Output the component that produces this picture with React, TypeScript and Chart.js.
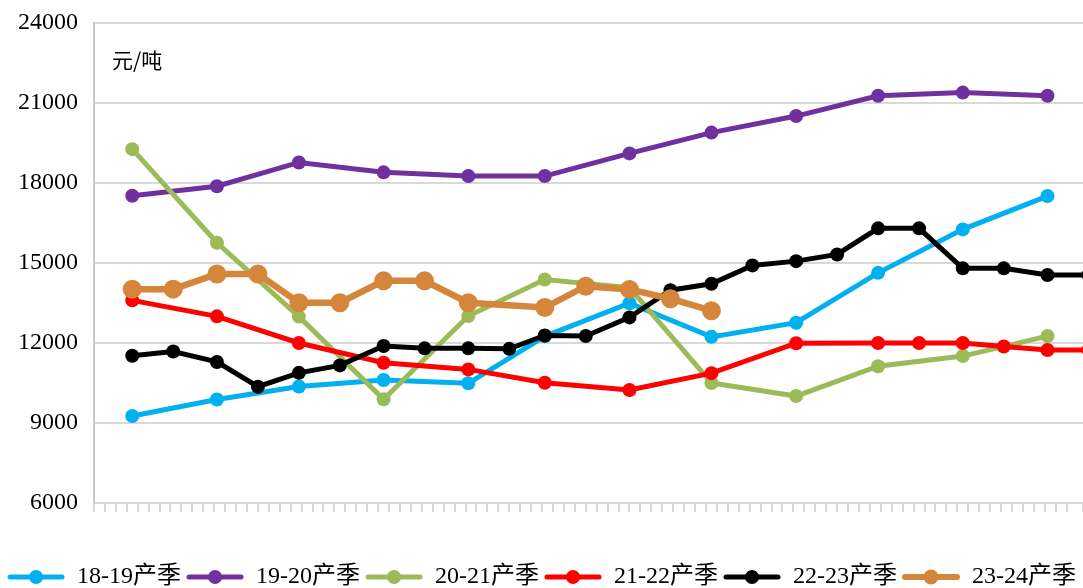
import { useEffect, useRef } from 'react';
import { Chart, registerables } from 'chart.js';

Chart.register(...registerables);

// ---------- data ----------
const unitText = '元/吨';
const seriesNames = ['18-19产季', '19-20产季', '20-21产季', '21-22产季', '22-23产季', '23-24产季'];
const seriesColors = ['#00B0F0', '#7030A0', '#9BBB59', '#FF0000', '#000000', '#D6863B'];

const monthlyDates = ['10-01', '11-01', '12-01', '01-01', '02-01', '03-01', '04-01', '05-01', '06-01', '07-01', '08-01', '09-01'];
const halfMonthDates = [
  '10-01', '10-16', '11-01', '11-16', '12-01', '12-16', '01-01', '01-16', '02-01', '02-16', '03-01', '03-16',
  '04-01', '04-16', '05-01', '05-16', '06-01', '06-16', '07-01', '07-16', '08-01', '08-16', '09-01', '09-16',
];
const dates2122 = ['10-01', '11-01', '12-01', '01-01', '02-01', '03-01', '04-01', '05-01', '06-01', '07-01', '07-16', '08-01', '08-16', '09-01', '09-16'];
const dates2324 = ['10-01', '10-16', '11-01', '11-16', '12-01', '12-16', '01-01', '01-16', '02-01', '03-01', '03-16', '04-01', '04-16', '05-01'];

const values1819 = [9260, 9880, 10370, 10610, 10490, 12250, 13490, 12230, 12760, 14630, 16260, 17510];
const values1920 = [17520, 17880, 18770, 18400, 18260, 18260, 19110, 19890, 20510, 21270, 21390, 21270];
const values2021 = [19270, 15760, 12990, 9890, 13010, 14380, 14080, 10500, 10010, 11130, 11510, 12260];
const values2122 = [13600, 13000, 12000, 11260, 11010, 10510, 10240, 10870, 11990, 12000, 12000, 12000, 11870, 11740, 11740];
const values2223 = [
  11520, 11680, 11290, 10360, 10880, 11160, 11890, 11800, 11800, 11780, 12280, 12260,
  12960, 13980, 14220, 14910, 15070, 15320, 16300, 16300, 14800, 14800, 14550, 14550,
];
const values2324 = [14020, 14020, 14590, 14590, 13510, 13510, 14330, 14330, 13510, 13330, 14130, 14010, 13660, 13210];

const yMin = 6000;
const yMax = 24000;
const yStep = 3000;
const xTickStepDays = 4;

// ---------- helpers ----------
const SEASON_START = Date.UTC(2022, 8, 17);
function toDay(md: string): number {
  const [m, d] = md.split('-').map(Number);
  const year = m >= 10 ? 2022 : 2023;
  return (Date.UTC(year, m - 1, d) - SEASON_START) / 86400000;
}
function toPoints(dates: string[], values: number[]) {
  return dates.map((d, i) => ({ x: toDay(d), y: values[i] }));
}

const seriesDates = [monthlyDates, monthlyDates, monthlyDates, dates2122, halfMonthDates, dates2324];
const seriesValues = [values1819, values1920, values2021, values2122, values2223, values2324];
const seriesLineWidth = [5, 5, 5, 5, 5, 6.5];
const seriesPointRadius = [7, 7, 7, 7, 7, 9.5];
const serifFont = '"Liberation Serif", "Noto Sans CJK SC", serif';

function makeLegendIcon(color: string, lw: number, r: number): HTMLCanvasElement {
  const c = document.createElement('canvas');
  c.width = 58;
  c.height = 20;
  const ctx = c.getContext('2d')!;
  ctx.strokeStyle = color;
  ctx.lineWidth = lw;
  ctx.lineCap = 'round';
  ctx.beginPath();
  ctx.moveTo(3, 10);
  ctx.lineTo(55, 10);
  ctx.stroke();
  ctx.fillStyle = color;
  ctx.beginPath();
  ctx.arc(29, 10, r, 0, Math.PI * 2);
  ctx.fill();
  return c;
}

const unitLabelPlugin = {
  id: 'unitLabel',
  afterDatasetsDraw(chart: any) {
    const { ctx, chartArea } = chart;
    ctx.save();
    ctx.font = '21px "Noto Sans CJK SC", sans-serif';
    ctx.fillStyle = '#000';
    ctx.textBaseline = 'middle';
    ctx.textAlign = 'left';
    ctx.fillText(unitText, chartArea.left + 18, chartArea.top + 37);
    ctx.restore();
  },
};

export default function App() {
  const canvasRef = useRef<HTMLCanvasElement | null>(null);

  useEffect(() => {
    if (!canvasRef.current) return;
    const icons = seriesColors.map((c, i) => makeLegendIcon(c, i === 5 ? 6 : 5, i === 5 ? 7.5 : 7));
    const datasets = seriesNames.map((name, i) => ({
      label: name,
      data: toPoints(seriesDates[i], seriesValues[i]),
      borderColor: seriesColors[i],
      backgroundColor: seriesColors[i],
      pointBackgroundColor: seriesColors[i],
      pointBorderColor: seriesColors[i],
      borderWidth: seriesLineWidth[i],
      pointRadius: seriesPointRadius[i],
      pointBorderWidth: 0,
      tension: 0,
      order: seriesNames.length - i,
    }));

    const chart = new Chart(canvasRef.current, {
      type: 'line',
      data: { datasets },
      plugins: [unitLabelPlugin],
      options: {
        animation: false,
        responsive: true,
        maintainAspectRatio: false,
        events: [],
        layout: { autoPadding: false, padding: { top: 23, right: 0, left: 0, bottom: -11 } },
        scales: {
          x: {
            type: 'linear',
            min: 0,
            max: 362,
            ticks: { display: false, stepSize: xTickStepDays },
            grid: { drawOnChartArea: false, drawTicks: true, tickLength: 9, color: '#D9D9D9', lineWidth: 2 },
            border: { display: true, color: '#D9D9D9', width: 2 },
            afterFit: (scale: any) => {
              scale.height = 57;
              scale.paddingLeft = 0;
              scale.paddingRight = 0;
            },
          },
          y: {
            min: yMin,
            max: yMax,
            ticks: {
              stepSize: yStep,
              padding: 16,
              color: '#000',
              font: { family: serifFont, size: 24 },
              callback: (v: any) => String(v),
            },
            grid: { drawTicks: false, color: '#D9D9D9', lineWidth: 2 },
            border: { display: true, color: '#C8C8C8', width: 2 },
            afterFit: (scale: any) => {
              scale.width = 94;
              scale.paddingTop = 0;
              scale.paddingBottom = 0;
            },
          },
        },
        plugins: {
          tooltip: { enabled: false },
          legend: {
            display: true,
            position: 'bottom',
            labels: {
              usePointStyle: true,
              pointStyleWidth: 58,
              boxHeight: 20,
              padding: 5,
              color: '#000',
              font: { family: serifFont, size: 24 },
              sort: (a: any, b: any) => a.datasetIndex - b.datasetIndex,
              generateLabels: (ch: any) =>
                (Chart.defaults.plugins.legend.labels.generateLabels as any)(ch).map((l: any) => ({
                  ...l,
                  pointStyle: icons[l.datasetIndex],
                })),
            },
          },
        },
      } as any,
    });
    return () => chart.destroy();
  }, []);

  return (
    <div style={{ position: 'fixed', left: 0, top: 0, width: 1083, height: 588, background: '#fff' }}>
      <canvas ref={canvasRef} />
    </div>
  );
}
